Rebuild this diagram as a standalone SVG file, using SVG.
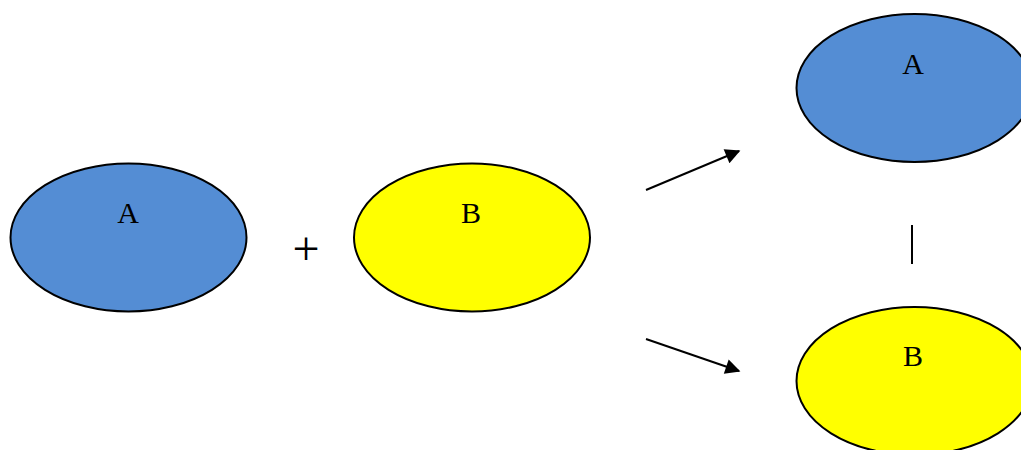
<svg xmlns="http://www.w3.org/2000/svg" width="1021" height="450" viewBox="0 0 1021 450">
<style>
.blue{fill:#548DD4;stroke:#000;stroke-width:2}
.yellow{fill:#FFFF00;stroke:#000;stroke-width:2}
.lbl{font-family:"Liberation Serif","Times New Roman",serif;font-size:30px;fill:#000;text-anchor:middle}
.conn{stroke:#000;stroke-width:2;fill:none}
</style>
<defs>
<marker id="arr" viewBox="0 0 10 10" refX="9" refY="5" markerWidth="9" markerHeight="7.5" markerUnits="strokeWidth" orient="auto">
<path d="M0,0 L10,5 L0,10 z" fill="#000"/>
</marker>
</defs>
<g id="nodeA1"><ellipse class="blue" cx="128.5" cy="237.5" rx="118" ry="74"/><text class="lbl" x="128" y="223">A</text></g>
<g id="plus"><text x="306" y="265" style="font-family:'Liberation Serif',serif;font-size:48px;text-anchor:middle">+</text></g>
<g id="nodeB1"><ellipse class="yellow" cx="472" cy="237.5" rx="118" ry="74"/><text class="lbl" x="471" y="223">B</text></g>
<g id="nodeA2"><ellipse class="blue" cx="914.5" cy="88" rx="118" ry="74"/><text class="lbl" x="913" y="74">A</text></g>
<g id="nodeB2"><ellipse class="yellow" cx="914.5" cy="381" rx="118" ry="74"/><text class="lbl" x="913" y="366">B</text></g>
<g id="connectors">
<line class="conn" x1="646" y1="190" x2="739" y2="151" marker-end="url(#arr)"/>
<line class="conn" x1="646" y1="339" x2="739" y2="371" marker-end="url(#arr)"/>
<line class="conn" x1="912" y1="225" x2="912" y2="264"/>
</g>
</svg>
